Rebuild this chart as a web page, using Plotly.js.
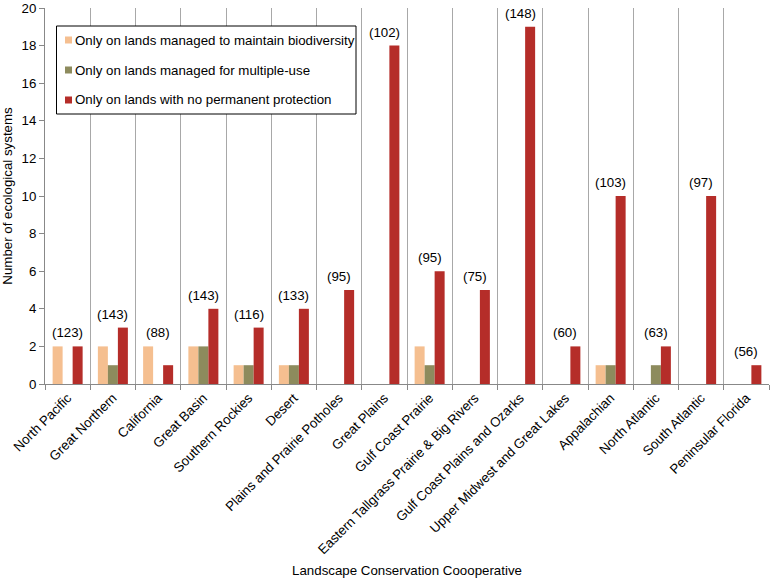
<!DOCTYPE html>
<html>
<head>
<meta charset="utf-8">
<script src="https://cdn.plot.ly/plotly-3.0.1.min.js"></script>
<style>html,body{margin:0;padding:0;background:#fff;}#chart{width:773px;height:580px;}</style>
</head>
<body>
<div id="chart"></div>
<script>
var categories = ["North Pacific","Great Northern","California","Great Basin","Southern Rockies","Desert","Plains and Prairie Potholes","Great Plains","Gulf Coast Prairie","Eastern Tallgrass Prairie & Big Rivers","Gulf Coast Plains and Ozarks","Upper Midwest and Great Lakes","Appalachian","North Atlantic","South Atlantic","Peninsular Florida"];
var biodiversity = [2,2,2,2,1,1,0,0,2,0,0,0,1,0,0,0];
var multipleUse = [0,1,0,2,1,1,0,0,1,0,0,0,1,1,0,0];
var noProtection = [2,3,1,4,3,4,5,18,6,5,19,2,10,2,10,1];
var totals = [123,143,88,143,116,133,95,102,95,75,148,60,103,63,97,56];
var seriesNames = ["Only on lands managed to maintain biodiversity","Only on lands managed for multiple-use","Only on lands with no permanent protection"];
var yTicks = [0,2,4,6,8,10,12,14,16,18,20];

var FONT = "Liberation Sans, Arial, sans-serif";
var colors = ["#F5BF90","#8D8B5D","#B52D29"];
var series = [biodiversity, multipleUse, noProtection];
var traces = series.map(function(vals, i){
  return {type:"bar", x:categories, y:vals, name:seriesNames[i], showlegend:false,
    marker:{color:colors[i], line:{width:0}}, hoverinfo:"skip"};
});

// plot area geometry (pixels) for placing the hand-made legend box
var W = 773, H = 580, mL = 45, mR = 4, mT = 8, mB = 196;
var pw = W - mL - mR, ph = H - mT - mB;
function px(x){ return (x - mL) / pw; }
function py(y){ return (H - mB - y) / ph; }

var annotations = categories.map(function(c, i){
  var m = Math.max(biodiversity[i], multipleUse[i], noProtection[i]);
  return {x:c, y:m, xref:"x", yref:"y", text:"(" + totals[i] + ")", showarrow:false,
    yanchor:"bottom", yshift:4, font:{family:FONT, size:13.3, color:"#000"}};
});
var shapes = [{type:"rect", xref:"paper", yref:"paper", x0:px(56.5), x1:px(356), y0:py(26), y1:py(114),
  fillcolor:"#fff", line:{color:"#000", width:1}, layer:"above"}];
var rowY = [40, 70, 100];
seriesNames.forEach(function(n, i){
  shapes.push({type:"rect", xref:"paper", yref:"paper", x0:px(65), x1:px(72), y0:py(rowY[i]-3.5), y1:py(rowY[i]+3.5),
    fillcolor:colors[i], line:{width:0}, layer:"above"});
  annotations.push({xref:"paper", yref:"paper", x:px(73), y:py(rowY[i]), xanchor:"left", yanchor:"middle",
    text:n, showarrow:false, font:{family:FONT, size:13.3, color:"#000"}});
});

var layout = {
  width:W, height:H,
  margin:{l:mL, r:mR, t:mT, b:mB},
  paper_bgcolor:"#fff", plot_bgcolor:"#fff",
  font:{family:FONT, size:13.3, color:"#000"},
  barmode:"group", bargap:0.337, bargroupgap:0,
  showlegend:false,
  xaxis:{type:"category", tickangle:-45, tickson:"boundaries", ticks:"outside", ticklen:5,
    tickcolor:"#888", showgrid:true, gridcolor:"#A8A8A8", gridwidth:1,
    showline:true, linecolor:"#888", linewidth:1, automargin:false,
    tickfont:{family:FONT, size:13.3},
    title:{text:"Landscape Conservation Coooperative", standoff:9, font:{size:13.3}}},
  yaxis:{range:[0,20], tickvals:yTicks, ticks:"outside", ticklen:5, tickcolor:"#888",
    showgrid:false, zeroline:false, showline:true, linecolor:"#888", linewidth:1, automargin:false,
    tickfont:{size:13.3},
    title:{text:"Number of ecological systems", standoff:6, font:{size:13.3}}},
  annotations:annotations,
  shapes:shapes
};
Plotly.newPlot("chart", traces, layout, {displayModeBar:false, staticPlot:true});
</script>
</body>
</html>
